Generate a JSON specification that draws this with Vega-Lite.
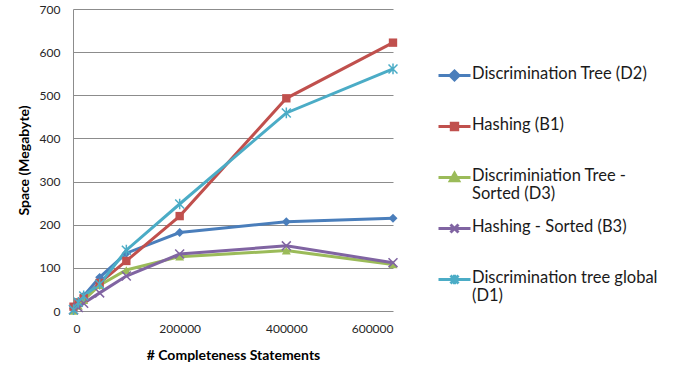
{
  "$schema": "https://vega.github.io/schema/vega-lite/v6.json",
  "width": 320,
  "height": 302,
  "autosize": {"type": "none"},
  "padding": {"left": 73, "top": 9, "right": 287, "bottom": 60},
  "background": "white",
  "config": {
    "view": {"stroke": null},
    "font": "Lato"
  },
  "data": {
    "values": [
      {"series": "Discrimination Tree (D2)", "n": 1000, "mb": 5},
      {"series": "Discrimination Tree (D2)", "n": 10000, "mb": 18},
      {"series": "Discrimination Tree (D2)", "n": 20000, "mb": 35},
      {"series": "Discrimination Tree (D2)", "n": 50000, "mb": 78},
      {"series": "Discrimination Tree (D2)", "n": 100000, "mb": 134},
      {"series": "Discrimination Tree (D2)", "n": 200000, "mb": 182},
      {"series": "Discrimination Tree (D2)", "n": 400000, "mb": 207},
      {"series": "Discrimination Tree (D2)", "n": 600000, "mb": 215},
      {"series": "Hashing (B1)", "n": 1000, "mb": 10},
      {"series": "Hashing (B1)", "n": 10000, "mb": 20},
      {"series": "Hashing (B1)", "n": 20000, "mb": 30},
      {"series": "Hashing (B1)", "n": 50000, "mb": 65},
      {"series": "Hashing (B1)", "n": 100000, "mb": 116},
      {"series": "Hashing (B1)", "n": 200000, "mb": 220},
      {"series": "Hashing (B1)", "n": 400000, "mb": 493},
      {"series": "Hashing (B1)", "n": 600000, "mb": 622},
      {"series": "Discriminiation Tree - Sorted (D3)", "n": 1000, "mb": 0},
      {"series": "Discriminiation Tree - Sorted (D3)", "n": 10000, "mb": 12},
      {"series": "Discriminiation Tree - Sorted (D3)", "n": 20000, "mb": 25},
      {"series": "Discriminiation Tree - Sorted (D3)", "n": 50000, "mb": 60},
      {"series": "Discriminiation Tree - Sorted (D3)", "n": 100000, "mb": 95},
      {"series": "Discriminiation Tree - Sorted (D3)", "n": 200000, "mb": 126},
      {"series": "Discriminiation Tree - Sorted (D3)", "n": 400000, "mb": 140},
      {"series": "Discriminiation Tree - Sorted (D3)", "n": 600000, "mb": 108},
      {"series": "Hashing - Sorted (B3)", "n": 1000, "mb": 3},
      {"series": "Hashing - Sorted (B3)", "n": 10000, "mb": 8},
      {"series": "Hashing - Sorted (B3)", "n": 20000, "mb": 18},
      {"series": "Hashing - Sorted (B3)", "n": 50000, "mb": 42},
      {"series": "Hashing - Sorted (B3)", "n": 100000, "mb": 81},
      {"series": "Hashing - Sorted (B3)", "n": 200000, "mb": 132},
      {"series": "Hashing - Sorted (B3)", "n": 400000, "mb": 151},
      {"series": "Hashing - Sorted (B3)", "n": 600000, "mb": 112},
      {"series": "Discrimination tree global (D1)", "n": 1000, "mb": 3},
      {"series": "Discrimination tree global (D1)", "n": 10000, "mb": 20},
      {"series": "Discrimination tree global (D1)", "n": 20000, "mb": 35},
      {"series": "Discrimination tree global (D1)", "n": 50000, "mb": 62},
      {"series": "Discrimination tree global (D1)", "n": 100000, "mb": 141},
      {"series": "Discrimination tree global (D1)", "n": 200000, "mb": 248},
      {"series": "Discrimination tree global (D1)", "n": 400000, "mb": 459},
      {"series": "Discrimination tree global (D1)", "n": 600000, "mb": 561}
    ]
  },
  "encoding": {
    "x": {
      "field": "n",
      "type": "quantitative",
      "scale": {"domain": [0, 600000], "nice": false},
      "axis": {
        "values": [0, 200000, 400000, 600000],
        "format": "d",
        "grid": false,
        "domain": false,
        "ticks": false,
        "labelFontSize": 12,
        "labelColor": "#262626",
        "labelPadding": 12,
        "title": "# Completeness Statements",
        "titleFontSize": 14,
        "titleFontWeight": "bold",
        "titleColor": "#000000",
        "titlePadding": 14
      }
    },
    "y": {
      "field": "mb",
      "type": "quantitative",
      "scale": {"domain": [0, 700], "nice": false},
      "axis": {
        "values": [0, 100, 200, 300, 400, 500, 600, 700],
        "grid": true,
        "gridColor": "#8c8c8c",
        "gridWidth": 1,
        "domain": true,
        "domainColor": "#8c8c8c",
        "ticks": false,
        "labelFontSize": 12,
        "labelColor": "#262626",
        "labelPadding": 13,
        "title": "Space (Megabyte)",
        "titleFontSize": 14,
        "titleFontWeight": "bold",
        "titleColor": "#000000",
        "titlePadding": 8
      }
    },
    "color": {
      "field": "series",
      "type": "nominal",
      "scale": {
        "domain": [
          "Discrimination Tree (D2)",
          "Hashing (B1)",
          "Discriminiation Tree - Sorted (D3)",
          "Hashing - Sorted (B3)",
          "Discrimination tree global (D1)"
        ],
        "range": ["#4a7ebb", "#c0504d", "#9bbb59", "#8064a2", "#4bacc6"]
      },
      "legend": {
        "title": null,
        "orient": "none",
        "legendX": 364,
        "legendY": 49,
        "padding": 0,
        "symbolSize": 1024,
        "gridAlign": "all",
        "rowPadding": 9,
        "labelOffset": 0,
        "labelFontSize": 16.5,
        "labelColor": "#1a1a1a",
        "labelLimit": 300,
        "labelBaseline": "top",
        "labelExpr": "datum.label === 'Discriminiation Tree - Sorted (D3)' ? ['Discriminiation Tree -', 'Sorted (D3)'] : datum.label === 'Discrimination tree global (D1)' ? ['Discrimination tree global', '(D1)'] : datum.label",
        "encode": {
          "labels": {
            "update": {
              "dy": {"value": -10},
              "lineHeight": {"value": 18}
            }
          },
          "symbols": {
            "update": {
              "shape": {
                "signal": "datum.value === 'Discrimination Tree (D2)' ? 'M-1,0L1,0M0,-0.28L0.28,0L0,0.28L-0.28,0Z' : datum.value === 'Hashing (B1)' ? 'M-1,0L1,0M-0.2,-0.2L0.2,-0.2L0.2,0.2L-0.2,0.2Z' : datum.value === 'Discriminiation Tree - Sorted (D3)' ? 'M-1,0L1,0M0,-0.26L0.26,0.2L-0.26,0.2Z' : datum.value === 'Hashing - Sorted (B3)' ? 'M-1,0L1,0M-0.25,-0.25L0.25,0.25M0.25,-0.25L-0.25,0.25' : 'M-1,0L1,0M-0.25,-0.25L0.25,0.25M0.25,-0.25L-0.25,0.25M0,-0.3L0,0.3'"
              },
              "fill": {
                "signal": "(datum.value === 'Hashing - Sorted (B3)' || datum.value === 'Discrimination tree global (D1)') ? 'transparent' : scale('color', datum.value)"
              },
              "stroke": {"signal": "scale('color', datum.value)"},
              "strokeWidth": {"value": 3},
              "opacity": {"value": 1}
            }
          }
        }
      }
    }
  },
  "layer": [
    {
      "mark": {"type": "line", "strokeWidth": 3}
    },
    {
      "transform": [{"filter": "datum.series === 'Discrimination Tree (D2)'"}],
      "mark": {"type": "point", "shape": "diamond", "filled": true, "size": 80, "opacity": 1}
    },
    {
      "transform": [{"filter": "datum.series === 'Hashing (B1)'"}],
      "mark": {"type": "point", "shape": "square", "filled": true, "size": 70, "opacity": 1}
    },
    {
      "transform": [{"filter": "datum.series === 'Discriminiation Tree - Sorted (D3)'"}],
      "mark": {"type": "point", "shape": "triangle-up", "filled": true, "size": 80, "opacity": 1}
    },
    {
      "transform": [{"filter": "datum.series === 'Hashing - Sorted (B3)'"}],
      "mark": {"type": "point", "shape": "M-1,-1L1,1M1,-1L-1,1", "filled": false, "size": 80, "strokeWidth": 1.5, "opacity": 1}
    },
    {
      "transform": [{"filter": "datum.series === 'Discrimination tree global (D1)'"}],
      "mark": {"type": "point", "shape": "M-1,-1L1,1M1,-1L-1,1M0,-1.2L0,1.2", "filled": false, "size": 80, "strokeWidth": 1.5, "opacity": 1}
    }
  ]
}
